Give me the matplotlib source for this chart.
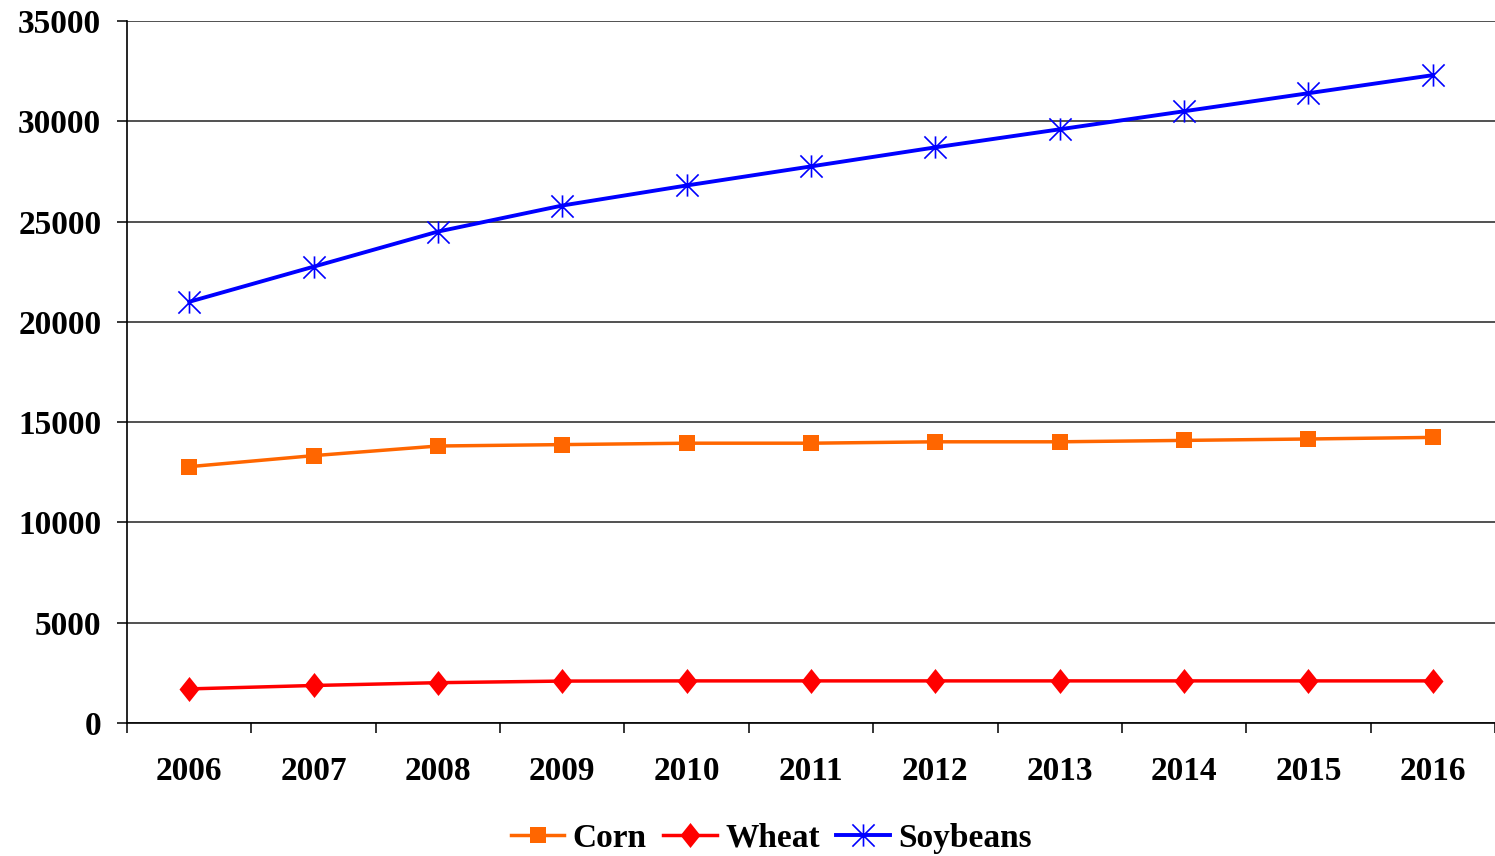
import matplotlib
matplotlib.use("Agg")
import matplotlib.pyplot as plt
from matplotlib.path import Path

years = ["2006", "2007", "2008", "2009", "2010", "2011",
         "2012", "2013", "2014", "2015", "2016"]
corn = [12780, 13330, 13810, 13880, 13950, 13950,
        14020, 14020, 14090, 14160, 14240]
wheat = [1700, 1870, 2010, 2090, 2100, 2100,
         2100, 2100, 2100, 2100, 2100]
soybeans = [21000, 22750, 24500, 25800, 26800, 27750,
            28700, 29600, 30500, 31400, 32300]
y_ticks = [0, 5000, 10000, 15000, 20000, 25000, 30000, 35000]

plt.rcParams["font.family"] = ["Liberation Serif", "DejaVu Serif"]
plt.rcParams["font.weight"] = "bold"

# Excel-style markers: a tall diamond and an asterisk (X plus vertical bar)
diamond = Path([(0, 1), (0.8, 0), (0, -1), (-0.8, 0), (0, 1)],
               [Path.MOVETO, Path.LINETO, Path.LINETO, Path.LINETO, Path.CLOSEPOLY])
asterisk = Path([(0, -1), (0, 1), (-1, -1), (1, 1), (-1, 1), (1, -1)],
                [Path.MOVETO, Path.LINETO, Path.MOVETO, Path.LINETO,
                 Path.MOVETO, Path.LINETO])

fig = plt.figure(figsize=(14.95, 8.56), dpi=100)
ax = fig.add_axes([127 / 1495, 133 / 856, 1 - 127 / 1495, 702 / 856])

x = list(range(len(years)))
ax.plot(x, corn, color="#FF6600", lw=2.5, marker="s", ms=11.5,
        mec="#FF6600", mfc="#FF6600", mew=0, label="Corn", zorder=3)
ax.plot(x, wheat, color="#FF0000", lw=2.5, marker=diamond, ms=18,
        mec="#FF0000", mfc="#FF0000", mew=0, label="Wheat", zorder=3)
ax.plot(x, soybeans, color="#0000FF", lw=2.8, marker=asterisk, ms=16,
        mec="#0000FF", mfc="none", mew=1.2, label="Soybeans", zorder=3)

ax.set_xlim(-0.5, len(years) - 0.5)
ax.set_ylim(0, 35000)
ax.set_yticks(y_ticks)
ax.set_yticklabels([str(v) for v in y_ticks])
ax.yaxis.grid(True, color="#222222", lw=1.1)
ax.set_axisbelow(True)

# Category labels centred in each slot, tick marks on the slot boundaries
ax.set_xticks([i - 0.5 for i in range(len(years) + 1)])
ax.set_xticklabels([])
ax.set_xticks(x, minor=True)
ax.set_xticklabels(years, minor=True)
ax.tick_params(axis="x", which="major", direction="out", length=7.5, width=1.1, color="black")
ax.tick_params(axis="x", which="minor", length=0, pad=24, labelsize=24)
ax.tick_params(axis="y", direction="out", length=7.5, width=1.1, pad=11, labelsize=24)

for side in ("top", "right"):
    ax.spines[side].set_visible(False)
for side in ("left", "bottom"):
    ax.spines[side].set_color("black")
    ax.spines[side].set_linewidth(1.2)

fig.legend(loc="center", bbox_to_anchor=(0.516, 0.021), ncol=3, frameon=False,
           fontsize=24, handlelength=1.6, handletextpad=0.25, columnspacing=0.5,
           numpoints=1, borderpad=0)

fig.savefig("out.png", dpi=100)
